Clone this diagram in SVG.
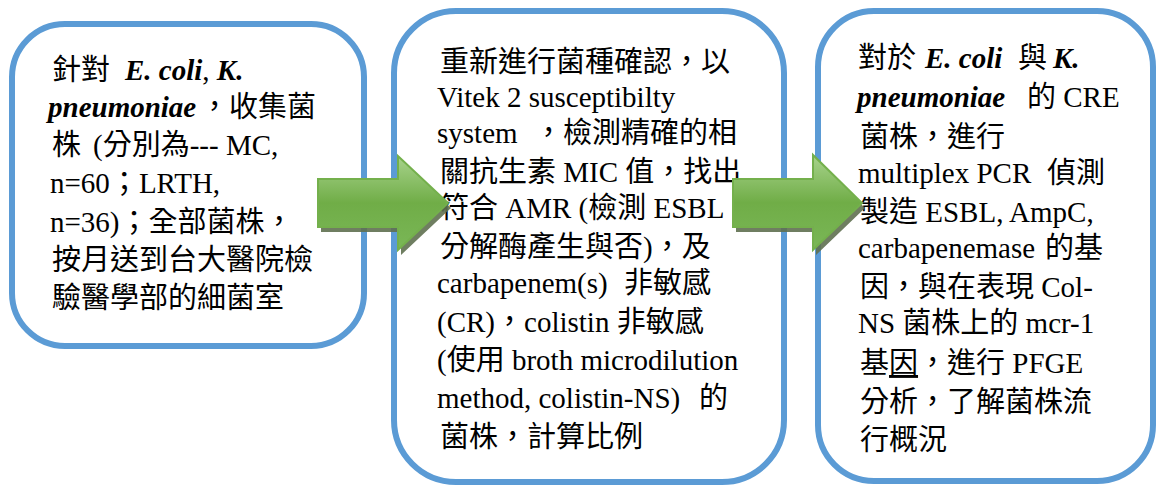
<svg xmlns="http://www.w3.org/2000/svg" width="1156" height="486" viewBox="0 0 1156 486">
<defs>
<linearGradient id="gArrow" x1="0" y1="0" x2="0" y2="1">
<stop offset="0" stop-color="#a8d38c"/>
<stop offset="0.5" stop-color="#70ad47"/>
<stop offset="1" stop-color="#7ab757"/>
</linearGradient>
</defs>
<style>
.box{fill:#ffffff;stroke:#5b9bd5;stroke-width:6}
text{font-family:"Liberation Serif",serif;font-size:29px;fill:#000000;white-space:pre}
.c{font-family:"Noto Sans CJK TC","Noto Sans CJK SC",sans-serif}
.bi{font-weight:bold;font-style:italic}
.arrow{fill:url(#gArrow);stroke:#74b04c;stroke-width:2;stroke-linejoin:miter}
.shadow{fill:#5f7050;opacity:0.9}
</style>
<rect width="1156" height="486" fill="#ffffff"/>

<g id="node-1">
<rect class="box" x="12" y="24" width="352" height="322" rx="53" ry="53"/>
<text x="52" y="80" class="c">針對</text><text x="125" y="80"><tspan class="bi">E. coli</tspan>, <tspan class="bi">K.</tspan></text>
<text x="48" y="117" class="bi">pneumoniae</text><text x="200" y="117" class="c">，收集菌</text>
<text x="52" y="155" class="c">株</text><text x="93" y="155">(<tspan class="c">分別為</tspan>--- MC,</text>
<text x="50" y="193">n=60<tspan class="c">；</tspan>LRTH,</text>
<text x="50" y="232">n=36)<tspan class="c">；全部菌株，</tspan></text>
<text x="52" y="270" class="c">按月送到台大醫院檢</text>
<text x="52" y="308" class="c">驗醫學部的細菌室</text>
</g>

<g id="node-2">
<rect class="box" x="394" y="11" width="390" height="471" rx="62" ry="62"/>
<text x="440" y="72" class="c">重新進行菌種確認，以</text>
<text x="437" y="107">Vitek 2 susceptibilty</text>
<text x="437" y="143">system</text><text x="534" y="143" class="c">，檢測精確的相</text>
<text x="440" y="182"><tspan class="c">關抗生素</tspan> MIC <tspan class="c">值，找出</tspan></text>
<text x="440" y="218"><tspan class="c">符合</tspan> AMR (<tspan class="c">檢測</tspan> ESBL</text>
<text x="440" y="257"><tspan class="c">分解酶產生與否</tspan>)<tspan class="c">，及</tspan></text>
<text x="437" y="293">carbapenem(s)</text><text x="624" y="293" class="c">非敏感</text>
<text x="437" y="332">(CR)<tspan class="c">，</tspan>colistin <tspan class="c">非敏感</tspan></text>
<text x="437" y="370">(<tspan class="c">使用</tspan> broth microdilution</text>
<text x="437" y="408">method, colistin-NS)</text><text x="699" y="408" class="c">的</text>
<text x="440" y="447" class="c">菌株，計算比例</text>
</g>

<g id="node-3">
<rect class="box" x="818" y="11" width="335" height="470" rx="56" ry="56"/>
<text x="858" y="68" class="c">對於</text><text x="925" y="68" class="bi">E. coli</text><text x="1018" y="68" class="c">與</text><text x="1053" y="68" class="bi">K.</text>
<text x="857" y="107" class="bi">pneumoniae</text><text x="1027" y="107"><tspan class="c">的</tspan> CRE</text>
<text x="860" y="147" class="c">菌株，進行</text>
<text x="858" y="183">multiplex PCR</text><text x="1047" y="183" class="c">偵測</text>
<text x="860" y="222"><tspan class="c">製造</tspan> ESBL, AmpC,</text>
<text x="858" y="258">carbapenemase</text><text x="1045" y="258" class="c">的基</text>
<text x="860" y="297"><tspan class="c">因，與在表現</tspan> Col-</text>
<text x="858" y="333">NS <tspan class="c">菌株上的</tspan> mcr-1</text>
<text x="860" y="373"><tspan class="c">基</tspan><tspan class="c" text-decoration="underline">因</tspan><tspan class="c">，進行</tspan> PFGE</text>
<text x="860" y="412" class="c">分析，了解菌株流</text>
<text x="860" y="450" class="c">行概況</text>
</g>

<g id="connectors">
<g id="arrow-1">
<polygon class="shadow" points="321,184 401,184 401,161 451,208 401,255 401,232 321,232"/>
<polygon class="arrow" points="318,179 398,179 398,156 448,203 398,250 398,227 318,227"/>
</g>
<g id="arrow-2">
<polygon class="shadow" points="736,184 816,184 816,160 865,208 816,255 816,232 736,232"/>
<polygon class="arrow" points="733,179 813,179 813,155 862,203 813,250 813,227 733,227"/>
</g>
</g>
</svg>
